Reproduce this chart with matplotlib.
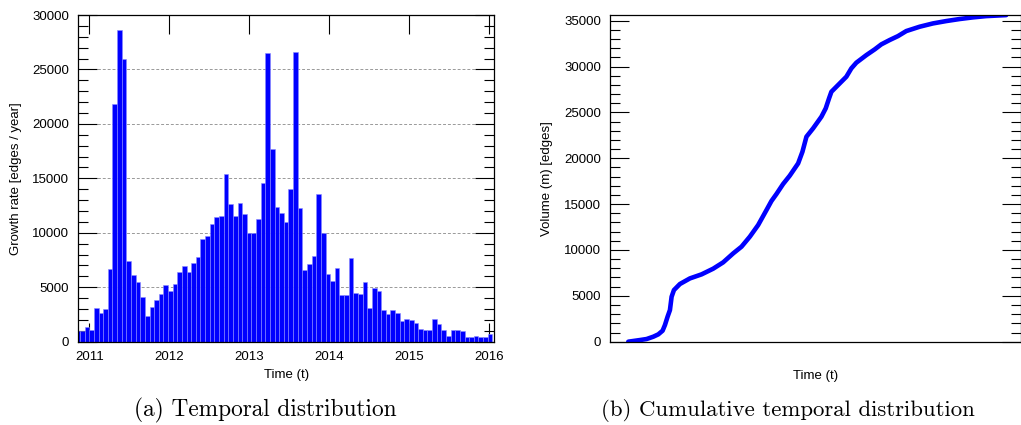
import numpy as np
import matplotlib.pyplot as plt
from matplotlib.ticker import MultipleLocator

# Growth rate per 3-week bin [edges / year]
rate = [1000, 1010, 1380, 1070, 3120, 2600, 3000, 6640, 21860, 28620,
        25990, 7410, 6120, 5480, 4130, 2390, 3210, 3830, 4380, 5200,
        4680, 5270, 6400, 6950, 6400, 7190, 7800, 9400, 9730, 10780,
        11420, 11570, 15370, 12640, 11510, 12760, 11720, 9980, 9980, 11260,
        14540, 26480, 17660, 12400, 11850, 11020, 14020, 26600, 12240, 6580,
        7130, 7870, 13530, 9980, 6180, 5570, 6770, 4250, 4290, 7680,
        4440, 4350, 5510, 3120, 4960, 4650, 2910, 2570, 2880, 2630,
        1930, 2080, 1990, 1710, 1160, 1070, 1070, 2050, 1620, 1070,
        550, 1070, 1040, 950, 400, 400, 490, 460, 460, 720]
bin_start = 2010.8846 - 0.0579   # first (clipped) bin
bin_width = 0.0579
years = [2011, 2012, 2013, 2014, 2015, 2016]

# Cumulative volume
cum_t = [2011.000, 2011.154, 2011.242, 2011.331, 2011.397, 2011.454, 2011.485,
         2011.520, 2011.551, 2011.573, 2011.604, 2011.683, 2011.815, 2011.969,
         2012.123, 2012.255, 2012.388, 2012.498, 2012.608, 2012.718, 2012.828,
         2012.894, 2012.960, 2013.048, 2013.136, 2013.247, 2013.304, 2013.357,
         2013.445, 2013.555, 2013.612, 2013.656, 2013.687, 2013.775, 2013.885,
         2013.951, 2014.017, 2014.150, 2014.260, 2014.348, 2014.458, 2014.568,
         2014.678, 2014.854, 2015.030, 2015.207, 2015.383, 2015.559, 2015.735,
         2016.000]
cum_m = [0, 180, 290, 545, 800, 1200, 1820, 2730, 3450, 4900, 5630, 6290,
         6900, 7340, 7960, 8650, 9630, 10360, 11450, 12720, 14350, 15340,
         16100, 17190, 18100, 19440, 20710, 22350, 23260, 24530, 25440,
         26530, 27250, 27980, 28890, 29800, 30420, 31250, 31870, 32420,
         32890, 33320, 33870, 34340, 34700, 34960, 35180, 35360, 35500, 35610]

plt.rcParams['font.family'] = 'Liberation Sans'
plt.rcParams['font.size'] = 9.5

W, H = 1021, 425
fig = plt.figure(figsize=(W / 100, H / 100), dpi=100)

def px_axes(x0, x1, y0, y1):
    return fig.add_axes([x0 / W, 1 - y1 / H, (x1 - x0) / W, (y1 - y0) / H])

def style_ticks(ax):
    ax.tick_params(which='major', direction='in', length=13.7, width=0.8,
                   left=True, right=True, pad=6.5)
    ax.tick_params(which='minor', direction='in', length=7.2, width=0.8,
                   left=True, right=True)
    for s in ax.spines.values():
        s.set_linewidth(0.9)

# ---------------- (a) histogram ----------------
ax1 = px_axes(78, 494.3, 15, 341.7)
lefts = bin_start + np.arange(len(rate)) * bin_width
ax1.bar(lefts, rate, width=bin_width, align='edge', color='#0000ff',
        edgecolor='#8a8aff', linewidth=0.4)
ax1.set_xlim(2010.859, 2016.0625)
ax1.set_ylim(0, 30000)
ax1.set_xticks(years)
ax1.yaxis.set_major_locator(MultipleLocator(5000))
ax1.yaxis.set_minor_locator(MultipleLocator(1000))
style_ticks(ax1)
ax1.tick_params(axis='x', which='major', top=True, bottom=True)
ax1.set_axisbelow(True)
ax1.grid(axis='y', linestyle=(0, (3, 2)), color='#999999', linewidth=0.7)
ax1.set_ylabel('Growth rate [edges / year]')
ax1.yaxis.set_label_coords(-0.149, 0.5)
ax1.set_xlabel('Time (t)')
ax1.xaxis.set_label_coords(0.5, -0.102)
ax1.xaxis.label.set_va('center')
ax1.yaxis.label.set_va('center')

# ---------------- (b) cumulative ----------------
ax2 = px_axes(610, 1020.5, 15, 341.7)
ax2.plot(cum_t, cum_m, color='#0000ff', linewidth=3.3, solid_capstyle='round')
ax2.set_xlim(2010.758, 2016.189)
ax2.set_ylim(0, 35620)
ax2.set_xticks([])
ax2.yaxis.set_major_locator(MultipleLocator(5000))
ax2.yaxis.set_minor_locator(MultipleLocator(1000))
style_ticks(ax2)
ax2.set_ylabel('Volume (m) [edges]')
ax2.yaxis.set_label_coords(-0.1527, 0.5)
ax2.yaxis.label.set_va('center')
ax2.set_xlabel('Time (t)')
ax2.xaxis.set_label_coords(0.5, -0.104)
ax2.xaxis.label.set_va('center')

# captions
fig.text(265 / W, 1 - 410 / H, '(a) Temporal distribution', family='cmr10',
         fontsize=16.8, ha='center', va='center')
fig.text(788 / W, 1 - 410 / H, '(b) Cumulative temporal distribution',
         family='cmr10', fontsize=16.4, ha='center', va='center')

fig.savefig('out.png', dpi=100)
